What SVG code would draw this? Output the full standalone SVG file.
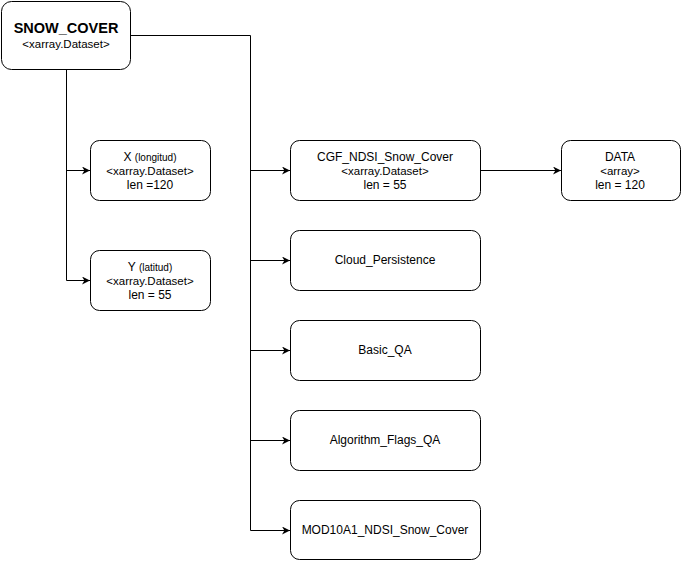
<svg xmlns="http://www.w3.org/2000/svg" width="681" height="561" viewBox="0 0 681 561">
<style>
.box{fill:#fff;stroke:#000;stroke-width:1}
.t{font-family:"Liberation Sans",Arial,sans-serif;font-size:12px;fill:#000;text-anchor:middle}
.d{font-size:11.5px}
.s{font-size:10px}
.b{font-size:14.5px;font-weight:bold}
.c{fill:none;stroke:#000;stroke-width:1}
</style>
<defs>
<marker id="a" viewBox="0 0 10 10" refX="10" refY="5" markerWidth="8" markerHeight="8" markerUnits="userSpaceOnUse" orient="auto">
<path d="M0,0 L10,5 L0,10 L3,5 Z" fill="#000"/>
</marker>
</defs>
<rect width="681" height="561" fill="#fff"/>
<g id="connectors">
<path class="c" d="M131,35.5 H250.5 V530.5"/>
<path class="c" d="M250.5,170.5 H290" marker-end="url(#a)"/>
<path class="c" d="M250.5,260.5 H290" marker-end="url(#a)"/>
<path class="c" d="M250.5,350.5 H290" marker-end="url(#a)"/>
<path class="c" d="M250.5,440.5 H290" marker-end="url(#a)"/>
<path class="c" d="M250.5,530.5 H290" marker-end="url(#a)"/>
<path class="c" d="M66.5,70 V280.5"/>
<path class="c" d="M66.5,170.5 H90" marker-end="url(#a)"/>
<path class="c" d="M66.5,280.5 H90" marker-end="url(#a)"/>
<path class="c" d="M480,170.5 H561" marker-end="url(#a)"/>
</g>
<g id="snow_cover">
<rect class="box" x="1.5" y="1.5" width="129" height="68" rx="10"/>
<text class="t b" x="66" y="33">SNOW_COVER</text>
<text class="t d" x="66" y="48">&lt;xarray.Dataset&gt;</text>
</g>
<g id="x">
<rect class="box" x="90.5" y="140.5" width="120" height="60" rx="9"/>
<text class="t" x="150" y="161">X <tspan class="s">(longitud)</tspan></text>
<text class="t d" x="150" y="175">&lt;xarray.Dataset&gt;</text>
<text class="t" x="150" y="189">len =120</text>
</g>
<g id="y">
<rect class="box" x="90.5" y="250.5" width="120" height="60" rx="9"/>
<text class="t" x="150" y="271">Y <tspan class="s">(latitud)</tspan></text>
<text class="t d" x="150" y="285">&lt;xarray.Dataset&gt;</text>
<text class="t" x="150" y="299">len = 55</text>
</g>
<g id="cgf">
<rect class="box" x="290.5" y="140.5" width="190" height="60" rx="9"/>
<text class="t" x="385" y="161">CGF_NDSI_Snow_Cover</text>
<text class="t d" x="385" y="175">&lt;xarray.Dataset&gt;</text>
<text class="t" x="385" y="189">len = 55</text>
</g>
<g id="data">
<rect class="box" x="561.5" y="140.5" width="119" height="60" rx="9"/>
<text class="t" x="620" y="161">DATA</text>
<text class="t d" x="620" y="175">&lt;array&gt;</text>
<text class="t" x="620" y="189">len = 120</text>
</g>
<g id="cloud">
<rect class="box" x="290.5" y="230.5" width="190" height="60" rx="9"/>
<text class="t" x="385" y="264">Cloud_Persistence</text>
</g>
<g id="basic">
<rect class="box" x="290.5" y="320.5" width="190" height="60" rx="9"/>
<text class="t" x="385" y="354">Basic_QA</text>
</g>
<g id="algo">
<rect class="box" x="290.5" y="410.5" width="190" height="60" rx="9"/>
<text class="t" x="385" y="444">Algorithm_Flags_QA</text>
</g>
<g id="mod">
<rect class="box" x="290.5" y="500.5" width="190" height="59" rx="9"/>
<text class="t" x="385" y="534">MOD10A1_NDSI_Snow_Cover</text>
</g>
</svg>
